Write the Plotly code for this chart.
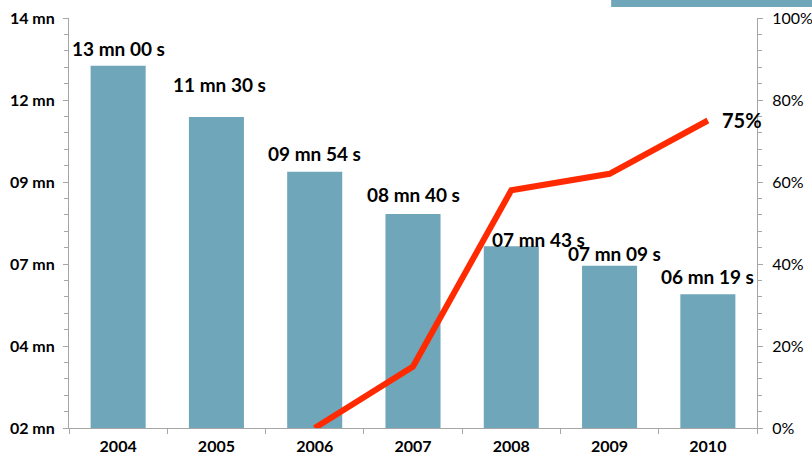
import plotly.graph_objects as go

years = ["2004", "2005", "2006", "2007", "2008", "2009", "2010"]
# average duration in minutes (mm:ss converted)
duration_min = [13 + 0/60, 11 + 30/60, 9 + 54/60, 8 + 40/60, 7 + 43/60, 7 + 9/60, 6 + 19/60]
duration_labels = ["13 mn 00 s", "11 mn 30 s", "09 mn 54 s", "08 mn 40 s",
                   "07 mn 43 s", "07 mn 09 s", "06 mn 19 s"]
share_years = ["2006", "2007", "2008", "2009", "2010"]
share_pct = [0, 15, 58, 62, 75]

left_tickvals = [2.4, 4.8, 7.2, 9.6, 12.0, 14.4]
left_ticktext = ["02 mn", "04 mn", "07 mn", "09 mn", "12 mn", "14 mn"]

# label placement tweaks (pixels)
label_dx = [0, 3, 0, 0, 27, 5, 0]
label_dy = [17, 33, 18, 19, 7, 12, 18]

BAR = "#6FA6B9"
RED = "#FF2A00"
AXIS = "#A6A6A6"
FONT = "Lato"

fig = go.Figure()
fig.add_trace(go.Bar(x=years, y=duration_min, marker=dict(color=BAR, line=dict(width=0)),
                     showlegend=False, hoverinfo="skip"))
fig.add_trace(go.Scatter(x=share_years, y=share_pct, yaxis="y2", mode="lines",
                         line=dict(color=RED, width=6), showlegend=False, hoverinfo="skip"))

for i, (v, lab, dx, dy) in enumerate(zip(duration_min, duration_labels, label_dx, label_dy)):
    fig.add_annotation(x=i, xref="x", y=v, yref="y", text=f"<b>{lab}</b>", showarrow=False,
                       xanchor="center", yanchor="middle", xshift=dx, yshift=dy,
                       font=dict(family=FONT, size=19, color="#000000"))

fig.add_annotation(x=years.index(share_years[-1]), xref="x", y=share_pct[-1], yref="y2",
                   text="<b>75%</b>", showarrow=False, xanchor="center", yanchor="middle",
                   xshift=34, yshift=1, font=dict(family=FONT, size=20, color="#000000"))

# partial legend box at top right
fig.add_shape(type="rect", xref="paper", yref="paper", x0=0.788, x1=1.1, y0=1.027, y1=1.06,
              fillcolor=BAR, line=dict(width=0), layer="above")

fig.update_layout(
    width=812, height=457,
    margin=dict(l=69, r=55, t=18, b=29, autoexpand=False),
    paper_bgcolor="white", plot_bgcolor="white",
    bargap=0.44,
    font=dict(family=FONT, color="#000000"),
    xaxis=dict(type="category", range=[-0.5, 6.5], showline=True, linecolor=AXIS, linewidth=1,
               ticks="outside", tickson="boundaries", ticklen=5, tickcolor=AXIS, automargin=False,
               ticklabelstandoff=4,
               tickfont=dict(family=FONT, size=16, color="#000000"), tickprefix="<b>", ticksuffix="</b>",
               showgrid=False, zeroline=False),
    yaxis=dict(range=[2.4, 14.4], tickmode="array", tickvals=left_tickvals,
               ticktext=[f"<b>{t}</b>" for t in left_ticktext], automargin=False, ticklabelstandoff=5,
               showline=True, linecolor=AXIS, linewidth=1, ticks="outside", ticklen=5, tickcolor=AXIS,
               tickfont=dict(family=FONT, size=16, color="#000000"), showgrid=False, zeroline=False,
               minor=dict(tickmode="linear", tick0=2.4, dtick=0.48, ticks="outside", ticklen=4, tickcolor=AXIS)),
    yaxis2=dict(range=[0, 100], overlaying="y", side="right", tickmode="linear", tick0=0, dtick=20,
                ticksuffix="%", showline=True, linecolor=AXIS, linewidth=1, ticks="outside", ticklen=5,
                tickcolor=AXIS, tickfont=dict(family=FONT, size=16, color="#000000"), automargin=False,
                ticklabelstandoff=6, showgrid=False, zeroline=False,
                minor=dict(tickmode="linear", tick0=0, dtick=4, ticks="outside", ticklen=4, tickcolor=AXIS)),
)

fig.write_html("out.html", config={"displayModeBar": False},
               post_script="document.body.style.margin='0px';document.body.style.overflow='hidden';")
